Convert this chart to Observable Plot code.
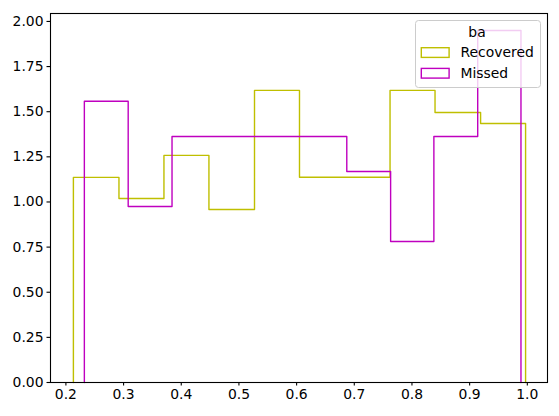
<!DOCTYPE html>
<html>
<head>
<meta charset="utf-8">
<script src="https://cdn.jsdelivr.net/npm/d3@7"></script>
<script src="https://cdn.jsdelivr.net/npm/@observablehq/plot@0.6"></script>
<style>
  html, body { margin: 0; padding: 0; background: #fff; }
  #wrap { position: relative; width: 559px; height: 416px; font-family: "DejaVu Sans", sans-serif; }
  #legend { position: absolute; left: 0; top: 0; pointer-events: none; }
</style>
</head>
<body>
<div id="wrap"></div>
<script>
// ---- data ----
const seriesNames = ["Recovered", "Missed"];
const seriesColors = ["#bfbf00", "#bf00bf"];
const legendTitle = "ba";

const recoveredEdges = [0.213, 0.292, 0.370, 0.448, 0.527, 0.605, 0.684, 0.762, 0.840, 0.919, 0.997];
const recoveredDensity = [1.136, 1.019, 1.258, 0.958, 1.618, 1.137, 1.137, 1.618, 1.496, 1.435];

const missedEdges = [0.232, 0.308, 0.384, 0.460, 0.535, 0.611, 0.687, 0.763, 0.838, 0.914, 0.989];
const missedDensity = [1.558, 0.975, 1.363, 1.363, 1.363, 1.363, 1.169, 0.781, 1.363, 1.950];

const xTicks = [0.2, 0.3, 0.4, 0.5, 0.6, 0.7, 0.8, 0.9, 1.0];
const yTicks = [0, 0.25, 0.5, 0.75, 1.0, 1.25, 1.5, 1.75, 2.0];
const xDomain = [0.1733, 1.035];
const yDomain = [0, 2.044];

// step outline vertices (matplotlib histtype="step")
function stepOutline(edges, heights, name) {
  const pts = [{x: edges[0], y: 0, s: name}];
  heights.forEach((h, i) => {
    pts.push({x: edges[i], y: h, s: name});
    pts.push({x: edges[i + 1], y: h, s: name});
  });
  pts.push({x: edges[edges.length - 1], y: 0, s: name});
  return pts;
}
const recPts = stepOutline(recoveredEdges, recoveredDensity, seriesNames[0]);
const misPts = stepOutline(missedEdges, missedDensity, seriesNames[1]);

const W = 559, H = 416;
const mL = 50, mR = 12, mT = 13, mB = 34;

const chart = Plot.plot({
  width: W,
  height: H,
  marginLeft: mL,
  marginRight: mR,
  marginTop: mT,
  marginBottom: mB,
  style: {fontFamily: "DejaVu Sans, sans-serif", fontSize: "13.9px", color: "#000", background: "#fff"},
  x: {domain: xDomain},
  y: {domain: yDomain},
  marks: [
    Plot.line(recPts, {x: "x", y: "y", stroke: seriesColors[0], strokeWidth: 1.4, curve: "linear"}),
    Plot.line(misPts, {x: "x", y: "y", stroke: seriesColors[1], strokeWidth: 1.4, curve: "linear"}),
    Plot.axisX({ticks: xTicks, tickFormat: d3.format(".1f"), tickSize: 3.5, tickPadding: 3.5, label: null, stroke: "#000", strokeWidth: 1.1}),
    Plot.axisY({ticks: yTicks, tickFormat: d3.format(".2f"), tickSize: 3.5, tickPadding: 3.5, label: null, stroke: "#000", strokeWidth: 1.1}),
    Plot.frame({stroke: "#000", strokeWidth: 1.1})
  ]
});
const wrap = document.getElementById("wrap");
wrap.appendChild(chart);

// legend overlay (layout only)
const ns = "http://www.w3.org/2000/svg";
const leg = document.createElementNS(ns, "svg");
leg.setAttribute("id", "legend");
leg.setAttribute("width", W);
leg.setAttribute("height", H);
leg.style.fontFamily = "DejaVu Sans, sans-serif";
leg.style.fontSize = "13.9px";
function el(tag, attrs, text) {
  const e = document.createElementNS(ns, tag);
  for (const k in attrs) e.setAttribute(k, attrs[k]);
  if (text != null) e.textContent = text;
  leg.appendChild(e);
  return e;
}
el("rect", {x: 415.5, y: 20.5, width: 125, height: 67, rx: 3, fill: "#fff", "fill-opacity": 0.8, stroke: "#cccccc", "stroke-width": 1});
el("text", {x: 477, y: 37, "text-anchor": "middle", fill: "#000"}, legendTitle);
seriesNames.forEach((name, i) => {
  const y0 = 47.7 + i * 20.7;
  el("rect", {x: 421.3, y: y0, width: 27.8, height: 9.7, fill: "none", stroke: seriesColors[i], "stroke-width": 1.4});
  el("text", {x: 460.5, y: y0 + 9.5, fill: "#000"}, name);
});
wrap.appendChild(leg);
</script>
</body>
</html>
